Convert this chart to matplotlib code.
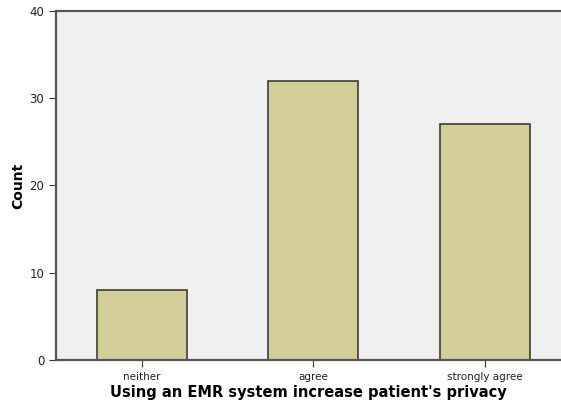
import matplotlib
matplotlib.use('Agg')
import matplotlib.pyplot as plt
from matplotlib.ticker import MultipleLocator

categories = ['neither', 'agree', 'strongly agree']
counts = [8, 32, 27]

fig = plt.figure(figsize=(5.61, 4.04), dpi=100)
ax = fig.add_axes([0.0998, 0.109, 0.9002, 0.864])
ax.set_facecolor('#F0F0F0')

x = range(len(categories))
ax.bar(x, counts, width=0.525, color='#D3CE97', edgecolor='#3C3C3C', linewidth=1.2, zorder=2)

ax.set_xlim(-0.5, 2.443)
ax.set_ylim(0, 40)
ax.yaxis.set_major_locator(MultipleLocator(10))
ax.set_xticks(list(x))
ax.set_xticklabels(categories)

for s in ['left', 'bottom', 'top']:
    ax.spines[s].set_color('#555555')
    ax.spines[s].set_linewidth(1.6)
ax.spines['right'].set_visible(False)

ax.tick_params(axis='y', labelsize=8.5, direction='out', length=5, color='#333333', labelcolor='#222222')
ax.tick_params(axis='x', labelsize=7.5, direction='out', length=5, color='#333333', labelcolor='#222222')

ax.set_xlabel("Using an EMR system increase patient's privacy", fontsize=10.5, fontweight='bold', labelpad=2)
ax.set_ylabel('Count', fontsize=10, fontweight='bold', labelpad=3)

fig.savefig('out.png', dpi=100)
